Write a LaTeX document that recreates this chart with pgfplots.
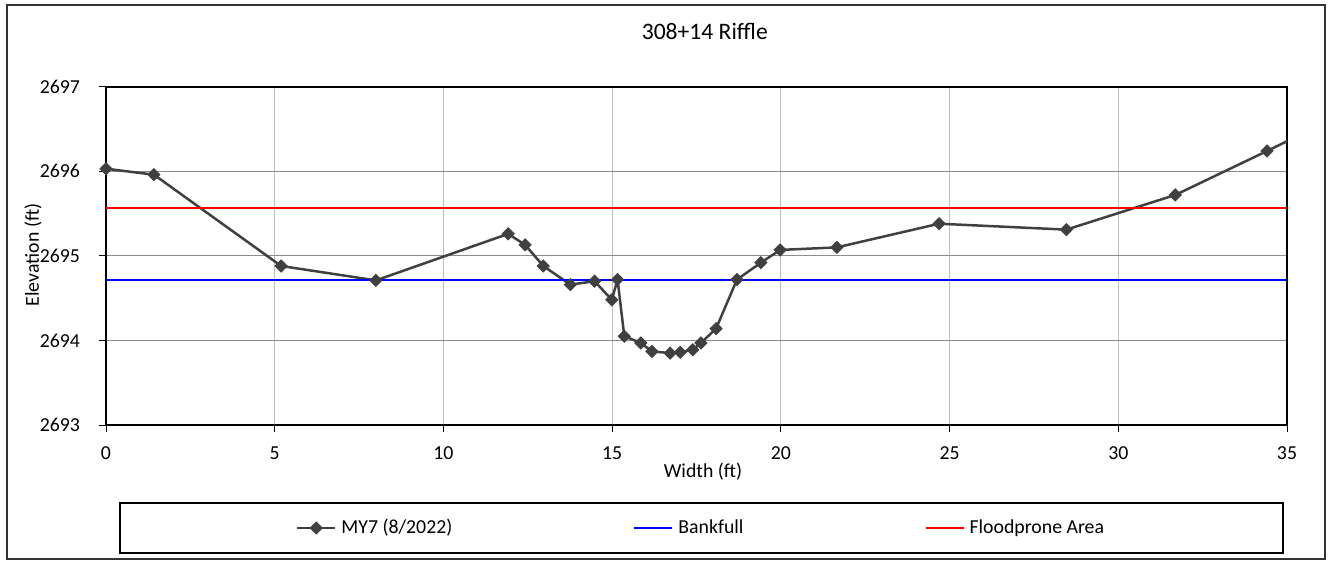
\documentclass[border=0pt]{standalone}
\usepackage{fontspec}
\setmainfont{Carlito}
\usepackage{pgfplots}
\pgfplotsset{compat=1.18}
\definecolor{serg}{RGB}{64,64,64}
\begin{document}
\fontsize{9.9}{11.5}\selectfont
\begin{tikzpicture}
\path[use as bounding box] (-53pt,-68pt) rectangle (612.5pt,212.5pt);
\draw[black!80, line width=0.6pt] (-49.5pt,-67pt) rectangle (609.5pt,210pt);
\begin{axis}[
  at={(0pt,0pt)}, anchor=south west,
  width=590.5pt, height=169.15pt, scale only axis,
  xmin=0, xmax=35, ymin=2693, ymax=2697,
  xtick={0,5,...,35}, ytick={2693,2694,...,2697},
  /pgf/number format/assume math mode=true,
  /pgf/number format/set thousands separator={},
  ticklabel style={font=\fontsize{9.9}{11.5}\selectfont},
  tick align=outside, major tick length=3.5pt,
  tick style={black, line width=0.5pt},
  xtick pos=bottom, ytick pos=left,
  axis line style={black, line width=0.9pt},
  grid=major,
  x grid style={color={rgb,255:red,190;green,190;blue,190}, line width=0.6pt},
  y grid style={color={rgb,255:red,140;green,140;blue,140}, line width=0.6pt},
  xticklabel style={yshift=-4pt},
  yticklabel style={xshift=-6pt},
  xlabel={Width (ft)},
  ylabel={Elevation (ft)},
  label style={font=\fontsize{9.9}{11.5}\selectfont},
  xlabel style={at={(axis description cs:0.5055,-0.139)}, anchor=center},
  ylabel style={at={(axis description cs:-0.0618,0.5025)}, anchor=center, rotate=0},
  title={308+14 Riffle},
  title style={at={(axis description cs:0.507,1.129)}, anchor=center, font=\fontsize{11.8}{13}\selectfont},
  legend style={at={(297.75pt,-51.5pt)}, anchor=center, draw=black, line width=0.9pt,
    inner xsep=88pt, inner ysep=6pt,
    font=\fontsize{9.9}{11.5}\selectfont,
    nodes={inner xsep=1.5pt}},
  legend columns=3,
  legend cell align=left,
  legend image code/.code={\draw[mark repeat=2,mark phase=2] plot coordinates {(0pt,0pt) (9.5pt,0pt) (19pt,0pt)};},
  /tikz/column 1/.style={column sep=1pt},
  /tikz/column 3/.style={column sep=1pt},
  /tikz/column 5/.style={column sep=1pt},
  /tikz/column 2/.style={column sep=89pt},
  /tikz/column 4/.style={column sep=89pt},
  clip marker paths=false,
]
\addplot[color=serg, line width=1.25pt, mark=square*, mark size=2.15pt,
  mark options={rotate=45, fill=serg, line width=0.4pt}] coordinates {
(0,2696.03) (1.42,2695.96) (5.19,2694.88) (8.0,2694.71) (11.92,2695.26)
(12.42,2695.13) (12.96,2694.88) (13.76,2694.66) (14.48,2694.70) (14.99,2694.48)
(15.16,2694.72) (15.36,2694.05) (15.85,2693.97) (16.18,2693.87) (16.72,2693.85)
(17.02,2693.86) (17.39,2693.89) (17.63,2693.97) (18.08,2694.14) (18.70,2694.72)
(19.41,2694.92) (19.98,2695.07) (21.66,2695.10) (24.69,2695.38) (28.46,2695.31)
(31.69,2695.72) (34.41,2696.24) (36.0,2696.55)
};
\addlegendentry{MY7 (8/2022)}
\addplot[color=blue, line width=1pt] coordinates {(0,2694.71) (35,2694.71)};
\addlegendentry{Bankfull}
\addplot[color=red, line width=1pt] coordinates {(0,2695.57) (35,2695.57)};
\addlegendentry{Floodprone Area}
\end{axis}
\end{tikzpicture}
\end{document}
